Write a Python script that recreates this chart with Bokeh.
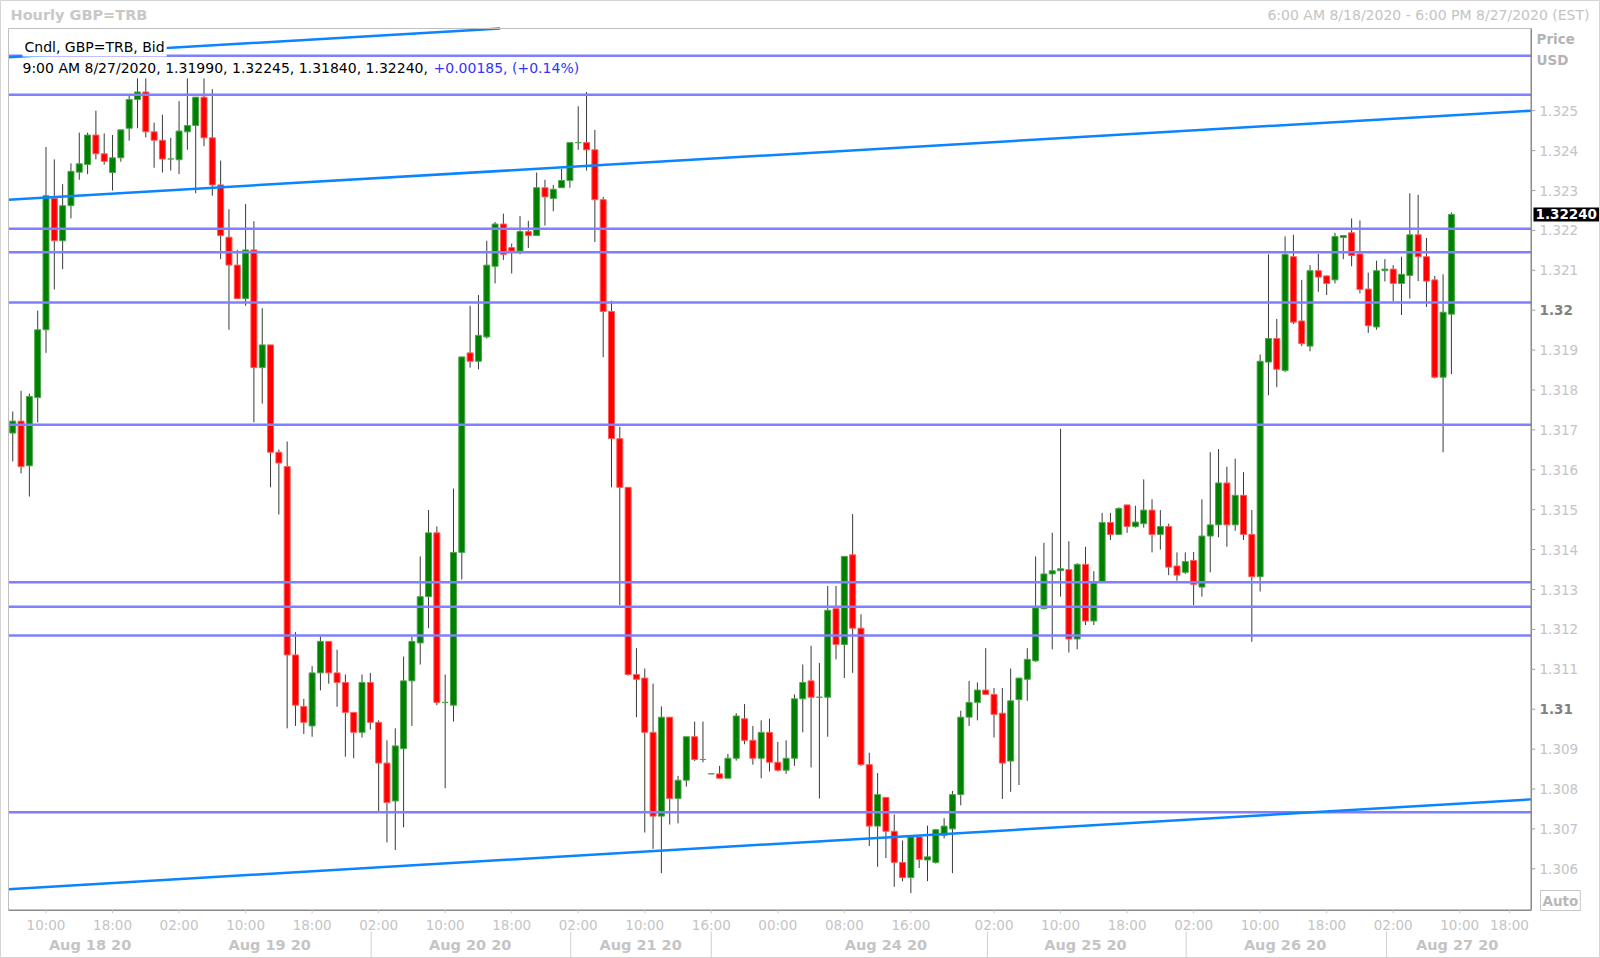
import math
from bokeh.plotting import figure
from bokeh.models import Range1d, Label, ColumnDataSource
from bokeh.core.properties import value
from bokeh.embed import file_html
from bokeh.resources import INLINE

# ---------------- data (hourly GBP=TRB, bar index 0 = 6:00 AM 8/18/2020) ----------------
bar_open = [1.31692, 1.31722, 1.31610, 1.31781, 1.31951, 1.32280, 1.32174, 1.32262, 1.32346, 1.32365,
            1.32439, 1.32392, 1.32345, 1.32382, 1.32456, 1.32528, 1.32547, 1.32447, 1.32426, 1.32379,
            1.32377, 1.32447, 1.32463, 1.32534, 1.32432, 1.32314, 1.32183, 1.32113, 1.32029, 1.32151,
            1.31856, 1.31913, 1.31644, 1.31608, 1.31136, 1.31007, 1.30958, 1.31091, 1.31170, 1.31091,
            1.31067, 1.30992, 1.30942, 1.31067, 1.30967, 1.30865, 1.30770, 1.30901, 1.31071, 1.31166,
            1.31282, 1.31442, 1.31017, 1.31010, 1.31393, 1.31893, 1.31872, 1.31933, 1.32110, 1.32216,
            1.32157, 1.32148, 1.32197, 1.32187, 1.32307, 1.32280, 1.32307, 1.32325, 1.32420, 1.32420,
            1.32402, 1.32277, 1.31997, 1.31678, 1.31556, 1.31087, 1.31078, 1.30942, 1.30732, 1.30980,
            1.30776, 1.30822, 1.30931, 1.30874, 1.30838, 1.30838, 1.30827, 1.30877, 1.30976, 1.30922,
            1.30877, 1.30942, 1.30867, 1.30847, 1.30877, 1.31026, 1.31071, 1.31030, 1.31030, 1.31252,
            1.31162, 1.31387, 1.31203, 1.30861, 1.30707, 1.30779, 1.30694, 1.30616, 1.30578, 1.30680,
            1.30622, 1.30616, 1.30684, 1.30700, 1.30786, 1.30980, 1.31017, 1.31048, 1.31037, 1.30990,
            1.30870, 1.31024, 1.31075, 1.31121, 1.31252, 1.31339, 1.31347, 1.31350, 1.31176, 1.31363,
            1.31221, 1.31320, 1.31468, 1.31438, 1.31512, 1.31458, 1.31465, 1.31499, 1.31438, 1.31458,
            1.31359, 1.31343, 1.31373, 1.31306, 1.31434, 1.31462, 1.31567, 1.31462, 1.31536, 1.31438,
            1.31332, 1.31870, 1.31929, 1.31849, 1.32134, 1.31973, 1.31910, 1.32099, 1.32086, 1.32076,
            1.32182, 1.32194, 1.32141, 1.32053, 1.31958, 1.32099, 1.32103, 1.32067, 1.32087, 1.32189,
            1.32134, 1.32076, 1.31832, 1.31990]
bar_high = [1.31746, 1.31798, 1.31791, 1.31999, 1.32409, 1.32378, 1.32316, 1.32368, 1.32445, 1.32445,
            1.32500, 1.32443, 1.32439, 1.32452, 1.32540, 1.32581, 1.32581, 1.32470, 1.32490, 1.32432,
            1.32524, 1.32581, 1.32534, 1.32581, 1.32554, 1.32375, 1.32253, 1.32151, 1.32266, 1.32223,
            1.32005, 1.31913, 1.31651, 1.31671, 1.31193, 1.31026, 1.31108, 1.31182, 1.31170, 1.31149,
            1.31087, 1.30992, 1.31087, 1.31091, 1.30972, 1.30922, 1.30952, 1.31132, 1.31182, 1.31383,
            1.31499, 1.31458, 1.31087, 1.31553, 1.31883, 1.32011, 1.32038, 1.32174, 1.32221, 1.32242,
            1.32167, 1.32236, 1.32224, 1.32345, 1.32327, 1.32314, 1.32354, 1.32420, 1.32511, 1.32547,
            1.32452, 1.32284, 1.32024, 1.31708, 1.31556, 1.31153, 1.31102, 1.31064, 1.31007, 1.30980,
            1.30833, 1.30931, 1.30969, 1.30969, 1.30838, 1.30858, 1.30888, 1.30990, 1.31013, 1.30958,
            1.30972, 1.30976, 1.30918, 1.30922, 1.31037, 1.31112, 1.31159, 1.31116, 1.31309, 1.31309,
            1.31383, 1.31489, 1.31238, 1.30891, 1.30840, 1.30779, 1.30736, 1.30671, 1.30680, 1.30680,
            1.30708, 1.30700, 1.30727, 1.30795, 1.30996, 1.31071, 1.31067, 1.31153, 1.31053, 1.31053,
            1.31102, 1.31078, 1.31153, 1.31383, 1.31417, 1.31442, 1.31703, 1.31421, 1.31366, 1.31407,
            1.31346, 1.31492, 1.31492, 1.31506, 1.31512, 1.31510, 1.31576, 1.31526, 1.31499, 1.31465,
            1.31393, 1.31393, 1.31394, 1.31526, 1.31644, 1.31652, 1.31608, 1.31628, 1.31594, 1.31499,
            1.31889, 1.32140, 1.31978, 1.32185, 1.32189, 1.32076, 1.32113, 1.32141, 1.32087, 1.32194,
            1.32187, 1.32230, 1.32225, 1.32094, 1.32124, 1.32128, 1.32113, 1.32134, 1.32293, 1.32289,
            1.32181, 1.32086, 1.32090, 1.32245]
bar_low = [1.31621, 1.31591, 1.31533, 1.31719, 1.31893, 1.32052, 1.32103, 1.32230, 1.32327, 1.32341,
           1.32378, 1.32365, 1.32300, 1.32372, 1.32425, 1.32456, 1.32433, 1.32357, 1.32345, 1.32350,
           1.32341, 1.32402, 1.32293, 1.32411, 1.32287, 1.32128, 1.31951, 1.32028, 1.32011, 1.31719,
           1.31766, 1.31556, 1.31488, 1.30952, 1.30958, 1.30938, 1.30931, 1.31047, 1.31064, 1.31006,
           1.30881, 1.30877, 1.30929, 1.30949, 1.30745, 1.30666, 1.30647, 1.30704, 1.30958, 1.31112,
           1.31203, 1.31010, 1.30802, 1.30969, 1.31325, 1.31856, 1.31852, 1.31929, 1.32067, 1.32126,
           1.32092, 1.32140, 1.32156, 1.32187, 1.32212, 1.32248, 1.32307, 1.32307, 1.32402, 1.32350,
           1.32171, 1.31882, 1.31556, 1.31261, 1.31084, 1.30980, 1.30691, 1.30650, 1.30589, 1.30711,
           1.30714, 1.30806, 1.30870, 1.30867, 1.30838, 1.30827, 1.30827, 1.30871, 1.30912, 1.30861,
           1.30827, 1.30844, 1.30844, 1.30838, 1.30858, 1.30942, 1.30854, 1.30776, 1.30931, 1.31125,
           1.31078, 1.31091, 1.30858, 1.30657, 1.30605, 1.30627, 1.30555, 1.30569, 1.30539, 1.30602,
           1.30569, 1.30613, 1.30676, 1.30589, 1.30759, 1.30958, 1.30972, 1.31037, 1.30929, 1.30775,
           1.30793, 1.30810, 1.31021, 1.31119, 1.31250, 1.31150, 1.31282, 1.31142, 1.31150, 1.31211,
           1.31211, 1.31320, 1.31424, 1.31438, 1.31442, 1.31455, 1.31455, 1.31393, 1.31400, 1.31336,
           1.31322, 1.31339, 1.31261, 1.31282, 1.31343, 1.31431, 1.31407, 1.31447, 1.31424, 1.31169,
           1.31295, 1.31787, 1.31807, 1.31845, 1.31965, 1.31910, 1.31897, 1.32046, 1.32038, 1.32067,
           1.32128, 1.32110, 1.32042, 1.31943, 1.31951, 1.32072, 1.32022, 1.31988, 1.32029, 1.32073,
           1.32008, 1.31829, 1.31644, 1.31840]
bar_close = [1.31722, 1.31608, 1.31784, 1.31951, 1.32287, 1.32174, 1.32262, 1.32348, 1.32367, 1.32439,
             1.32392, 1.32373, 1.32382, 1.32452, 1.32528, 1.32547, 1.32447, 1.32426, 1.32379, 1.32379,
             1.32449, 1.32463, 1.32534, 1.32432, 1.32314, 1.32187, 1.32113, 1.32029, 1.32151, 1.31856,
             1.31913, 1.31644, 1.31617, 1.31136, 1.31010, 1.30967, 1.31091, 1.31170, 1.31091, 1.31067,
             1.30992, 1.30942, 1.31067, 1.30967, 1.30865, 1.30766, 1.30908, 1.31071, 1.31170, 1.31282,
             1.31442, 1.31017, 1.31017, 1.31393, 1.31883, 1.31872, 1.31937, 1.32113, 1.32216, 1.32140,
             1.32148, 1.32197, 1.32187, 1.32307, 1.32284, 1.32303, 1.32325, 1.32420, 1.32420, 1.32402,
             1.32277, 1.31997, 1.31678, 1.31556, 1.31087, 1.31075, 1.30942, 1.30732, 1.30980, 1.30776,
             1.30822, 1.30931, 1.30874, 1.30874, 1.30838, 1.30827, 1.30877, 1.30983, 1.30922, 1.30877,
             1.30942, 1.30867, 1.30847, 1.30877, 1.31026, 1.31067, 1.31030, 1.31030, 1.31248, 1.31162,
             1.31383, 1.31203, 1.30861, 1.30707, 1.30786, 1.30694, 1.30616, 1.30578, 1.30680, 1.30623,
             1.30630, 1.30698, 1.30707, 1.30786, 1.30980, 1.31017, 1.31048, 1.31037, 1.30987, 1.30865,
             1.31021, 1.31078, 1.31125, 1.31254, 1.31339, 1.31347, 1.31352, 1.31176, 1.31363, 1.31221,
             1.31316, 1.31468, 1.31438, 1.31503, 1.31458, 1.31469, 1.31499, 1.31438, 1.31458, 1.31356,
             1.31336, 1.31370, 1.31313, 1.31434, 1.31462, 1.31567, 1.31462, 1.31536, 1.31438, 1.31332,
             1.31872, 1.31929, 1.31852, 1.32140, 1.31970, 1.31916, 1.32099, 1.32083, 1.32067, 1.32185,
             1.32187, 1.32137, 1.32052, 1.31961, 1.32099, 1.32103, 1.32067, 1.32090, 1.32189, 1.32134,
             1.32073, 1.31832, 1.31995, 1.32240]

# horizontal support / resistance levels
levels = [1.32638, 1.32540, 1.32204, 1.32145, 1.32019, 1.31713, 1.31318, 1.31257, 1.31185, 1.30742]
# trend lines: value at the left edge and at the right edge of the price pane
trend_left = [1.32634, 1.32277, 1.30549]
trend_right = [1.32857, 1.32500, 1.30774]

# axes
price_ticks = [round(1.306 + 0.001 * k, 3) for k in range(20)]
bold_prices = [1.31, 1.32]
time_ticks = [4, 12, 20, 28, 36, 44, 52, 60, 68, 76, 84, 92, 100, 108, 118, 126, 134, 142, 150, 158, 166, 174, 180]
time_labels = ["10:00", "18:00", "02:00", "10:00", "18:00", "02:00", "10:00", "18:00", "02:00", "10:00",
               "16:00", "00:00", "08:00", "16:00", "02:00", "10:00", "18:00", "02:00", "10:00", "18:00",
               "02:00", "10:00", "18:00"]
date_ticks = [9.3, 30.9, 55, 75.5, 105, 129, 153, 173.7]
date_labels = ["Aug 18 20", "Aug 19 20", "Aug 20 20", "Aug 21 20", "Aug 24 20", "Aug 25 20", "Aug 26 20", "Aug 27 20"]
day_separators = [43.1, 67.1, 84, 117.2, 141.1, 165.2]

title_left = "Hourly GBP=TRB"
title_right = "6:00 AM 8/18/2020 - 6:00 PM 8/27/2020 (EST)"
legend_name = "Cndl, GBP=TRB, Bid"
last_bar = "9:00 AM 8/27/2020"
legend_change = "+0.00185, (+0.14%)"

# price pane extent (bar index / price)
X_START, X_END = -0.51, 182.6
Y_START, Y_END = 1.30496, 1.32706

# ---------------- layout geometry (canvas pixels) ----------------
W, H = 1600, 958
BAR0_X, PX_PER_BAR = 12.24, 8.316          # canvas x of bar 0, pixels per bar
REF_PRICE, REF_Y, PX_PER_PRICE = 1.325, 110.2, 39900.0


def px(xpix):
    return (xpix - BAR0_X) / PX_PER_BAR


def py(ypix):
    return REF_PRICE - (ypix - REF_Y) / PX_PER_PRICE


FONT = "DejaVu Sans"
LIGHT = "#C4C4C4"

p = figure(width=W, height=H, x_range=Range1d(px(0), px(W)), y_range=Range1d(py(H), py(0)),
           x_axis_location=None, y_axis_location=None, output_backend="svg", toolbar_location=None,
           min_border_left=0, min_border_right=0, min_border_top=0, min_border_bottom=0)
p.grid.visible = False
p.background_fill_color = "white"
p.border_fill_color = "white"
p.outline_line_color = "#D4D4D4"

# ---------------- candles ----------------
n = len(bar_open)
up = [c >= o for o, c in zip(bar_open, bar_close)]
src = ColumnDataSource(dict(
    x=list(range(n)), h=bar_high, l=bar_low,
    top=[max(o, c) for o, c in zip(bar_open, bar_close)],
    bottom=[min(o, c) for o, c in zip(bar_open, bar_close)],
    fill=["#008000" if u else "#FF0000" for u in up],
    edge=["#4DA64D" if u else "#FF5C5C" for u in up],
))
p.segment(x0="x", y0="l", x1="x", y1="h", source=src, line_color="#3A3A3A", line_width=1)
p.vbar(x="x", top="top", bottom="bottom", width=0.72, source=src,
       fill_color="fill", line_color="edge", line_width=1)

# ---------------- levels & trend lines ----------------
p.segment(x0=[X_START] * len(levels), y0=levels, x1=[X_END] * len(levels), y1=levels,
          line_color="#7F7FFF", line_width=2.5)

tx0, ty0, tx1, ty1 = [], [], [], []
for a, b in zip(trend_left, trend_right):
    xa_, ya_, xb_, yb_ = X_START, a, X_END, b
    slope = (b - a) / (X_END - X_START)
    if yb_ > Y_END:   # clip at the top of the price pane
        xb_ = X_START + (Y_END - a) / slope
        yb_ = Y_END
    tx0.append(xa_); ty0.append(ya_); tx1.append(xb_); ty1.append(yb_)
p.segment(x0=tx0, y0=ty0, x1=tx1, y1=ty1, line_color="#0A84FF", line_width=2.5)

# ---------------- pane border ----------------
p.segment(x0=[X_START, X_START], y0=[Y_END, Y_START], x1=[X_END, X_START], y1=[Y_END, Y_END],
          line_color="#C0C0C0", line_width=1)
p.segment(x0=[X_START, X_END], y0=[Y_START, Y_START], x1=[X_END, X_END], y1=[Y_START, Y_END],
          line_color="#8A8A8A", line_width=1.5)

# ---------------- price axis (right) ----------------
p.ray(x=[X_END] * len(price_ticks), y=price_ticks, length=4, length_units="screen", angle=0,
      line_color="#A0A0A0", line_width=1)
reg = [t for t in price_ticks if t not in bold_prices]
p.text(x=[px(1539)] * len(reg), y=reg, text=[f"{t:.3f}" for t in reg], text_font=value(FONT),
       text_font_size="13.5px", text_color=LIGHT, text_align="left", text_baseline="middle")
p.text(x=[px(1539)] * len(bold_prices), y=bold_prices, text=[f"{t:.2f}" for t in bold_prices],
       text_font=value(FONT), text_font_size="13.5px", text_font_style="bold", text_color="#808080",
       text_align="left", text_baseline="middle")

# ---------------- time axis (below) ----------------
p.ray(x=time_ticks, y=[Y_START] * len(time_ticks), length=3, length_units="screen", angle=-math.pi / 2,
      line_color="#C8C8C8", line_width=1)
p.text(x=time_ticks[:-1] + [px(1509)], y=[py(924.5)] * len(time_ticks), text=time_labels,
       text_font=value(FONT), text_font_size="13.5px", text_color=LIGHT,
       text_align="center", text_baseline="middle")
p.text(x=date_ticks, y=[py(944)] * len(date_ticks), text=date_labels, text_font=value(FONT),
       text_font_size="14.5px", text_font_style="bold", text_color=LIGHT,
       text_align="center", text_baseline="middle")
p.segment(x0=day_separators, y0=[py(931)] * len(day_separators), x1=day_separators,
          y1=[py(957)] * len(day_separators), line_color="#D0D0D0", line_width=1)


def lab(text, x, y, color="black", size="14px", style="normal", align="left", bg=None, border=None, pad=0):
    lb = Label(x=x, y=y, text=text, text_color=color, text_font=FONT, text_font_size=size,
               text_font_style=style, text_align=align, text_baseline="middle",
               background_fill_color=bg, border_line_color=border, padding=pad)
    p.add_layout(lb)
    return lb


# header
lab(title_left, px(10), py(14), color="#C8C8C8", size="14.5px", style="bold")
lab(title_right, px(1589), py(14), color="#C4C4C4", size="14px", align="right")

# legend
lab(legend_name, px(22), py(46), bg="white", pad=2)
lab(f"{last_bar}, {bar_open[-1]:.5f}, {bar_high[-1]:.5f}, {bar_low[-1]:.5f}, {bar_close[-1]:.5f},",
    px(22), py(67))
lab(legend_change, px(433), py(67), color="#3333FF")

# right side extras
lab("Price", px(1536), py(38), color="#B4B4B4", size="13.5px", style="bold")
lab("USD", px(1536), py(59), color="#B4B4B4", size="13.5px", style="bold")
lab(f"{bar_close[-1]:.5f}", px(1533), bar_close[-1], color="white", size="13.5px", style="bold",
    bg="black", pad=2)
lab("Auto", px(1540), py(900), color="#B8B8B8", size="13.5px", style="bold", border="#C8C8C8", pad=2)

open("out.html", "w").write(file_html(p, INLINE))
